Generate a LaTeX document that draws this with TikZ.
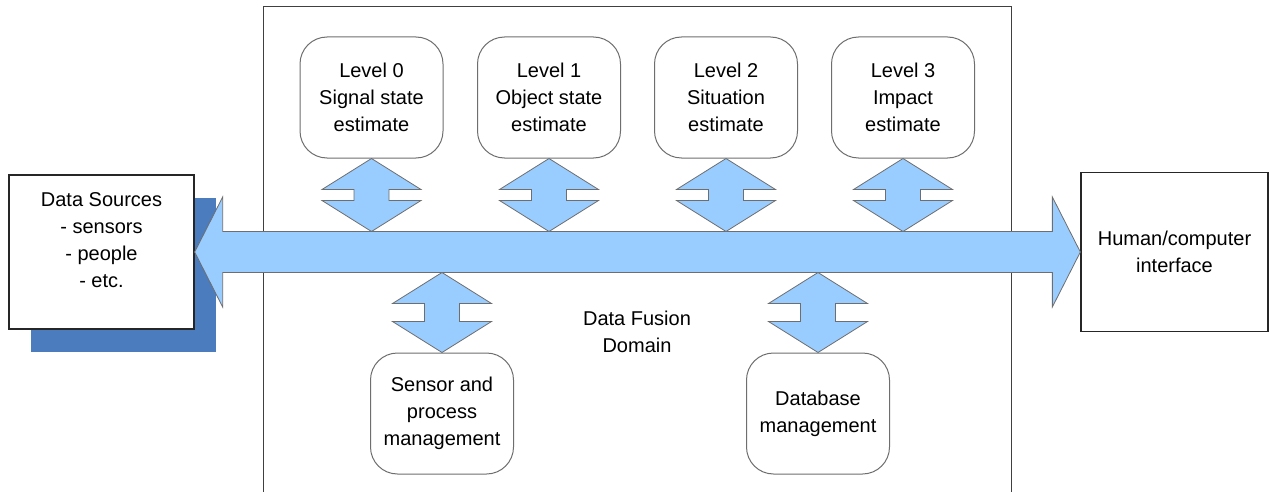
\documentclass[tikz,border=0pt]{standalone}
\usepackage{fontspec}
\setmainfont{Liberation Sans}
\usetikzlibrary{calc}
\definecolor{busblue}{RGB}{153,204,255}
\definecolor{shadowblue}{RGB}{74,124,190}
\definecolor{edgegray}{RGB}{110,110,110}
\tikzset{
	txt/.style={font=\fontsize{20}{27}\selectfont, align=center},
	levelbox/.style={txt, draw=edgegray, line width=1pt, fill=white, rounded corners=27pt, minimum width=143pt, minimum height=121pt},
	plainbox/.style={txt, draw=black!85, line width=1.3pt, fill=white},
	biarrow/.style={fill=busblue, draw=edgegray, line width=0.8pt}
}
\newcommand{\vbiarrow}[2]{%
	\filldraw[biarrow] (#1) -- ++(49.5,31) -- ++(-32,0) -- ($(#2)+(17.5,-31)$) -- ++(32,0) -- (#2)
		-- ++(-49.5,-31) -- ++(32,0) -- ($(#1)+(-17.5,31)$) -- ++(-32,0) -- cycle;}
\begin{document}
\begin{tikzpicture}[x=1pt, y=-1pt]
		\useasboundingbox (0,0) rectangle (1271,492);
		\draw[black!75, line width=1pt] (263,495) -- (263,7) -- (1011,7) -- (1011,495);
		\fill[shadowblue] (31,198) rectangle (216,352);
		\node[plainbox, minimum width=185pt, minimum height=154pt] (src) at (101.5,252) {};
		\node[txt] (srctext) at (101.5,240) {Data Sources\\- sensors\\- people\\- etc.};
		\node[plainbox, minimum width=187pt, minimum height=159pt] (hci) at (1174.5,252) {Human/computer\\interface};
		\node[levelbox] (l0) at (371.5,97.5) {Level 0\\Signal state\\estimate};
		\node[levelbox] (l1) at (549,97.5) {Level 1\\Object state\\estimate};
		\node[levelbox] (l2) at (726,97.5) {Level 2\\Situation\\estimate};
		\node[levelbox] (l3) at (903,97.5) {Level 3\\Impact\\estimate};
		\node[levelbox] (sensor) at (442,413.5) {Sensor and\\process\\management};
		\node[levelbox] (database) at (818,413.5) {Database\\management};
		\node[txt] (domain) at (637,332) {Data Fusion\\Domain};
		\coordinate (bustop) at ($(src.east)+(0,-20.5)$);
		\coordinate (busbot) at ($(src.east)+(0,20.5)$);
		\filldraw[biarrow] (src.east) -- ++(28,-55) -- ++(0,34.5) -- ($(hci.west)+(-28,-20.5)$) -- ++(0,-34.5) -- (hci.west)
			-- ++(-28,55) -- ++(0,-34.5) -- ($(src.east)+(28,20.5)$) -- ++(0,34.5) -- cycle;
		\vbiarrow{l0.south}{l0.south |- bustop}
		\vbiarrow{l1.south}{l1.south |- bustop}
		\vbiarrow{l2.south}{l2.south |- bustop}
		\vbiarrow{l3.south}{l3.south |- bustop}
		\vbiarrow{sensor.north |- busbot}{sensor.north}
		\vbiarrow{database.north |- busbot}{database.north}
	\end{tikzpicture}
\end{document}
